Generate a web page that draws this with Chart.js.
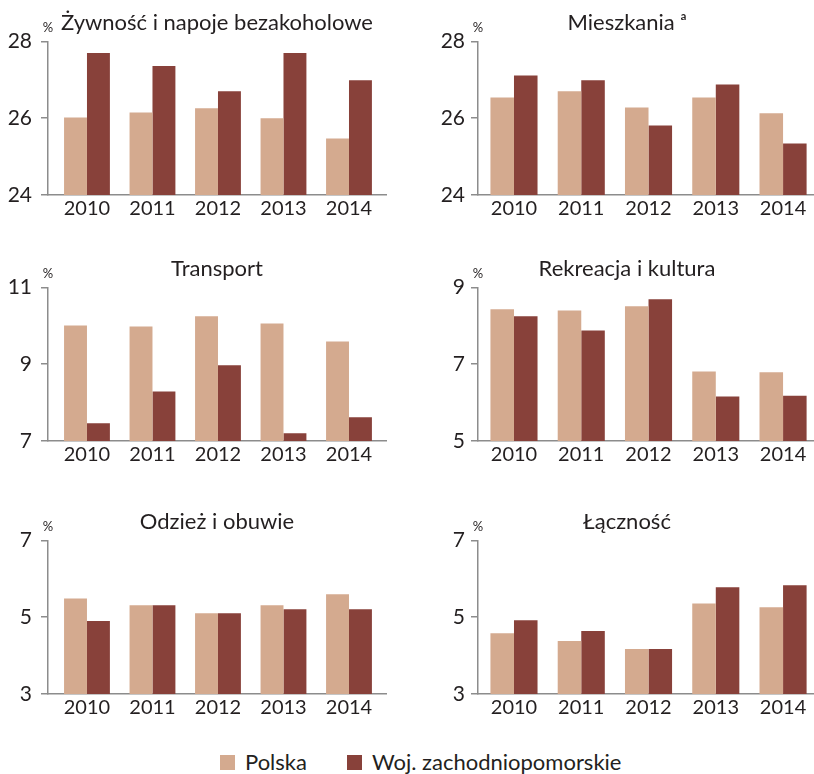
<!DOCTYPE html>
<html lang="pl">
<head>
<meta charset="utf-8">
<title>Struktura wydatków gospodarstw domowych</title>
<script src="https://cdn.jsdelivr.net/npm/chart.js@4.4.1/dist/chart.umd.min.js"></script>
<style>
    body { margin: 0; background: #fff; }
    #wrap { position: relative; width: 814px; height: 774px; overflow: hidden; font-family: Lato, sans-serif; color: #231f20; }
    #wrap canvas { position: absolute; }
    .legend { position: absolute; top: 749px; left: 220px; display: flex; font-size: 22px; line-height: 26px; }
    .legend .item { display: flex; align-items: center; margin-right: 40px; }
    .legend .swatch { display: inline-block; width: 15px; height: 15px; margin-right: 10px; }
</style>
</head>
<body>
<div id="wrap">
    <canvas id="c0"></canvas>
    <canvas id="c1"></canvas>
    <canvas id="c2"></canvas>
    <canvas id="c3"></canvas>
    <canvas id="c4"></canvas>
    <canvas id="c5"></canvas>
    <div class="legend" id="legend"></div>
</div>
<script>
    const years = ["2010", "2011", "2012", "2013", "2014"];
    const seriesNames = ["Polska", "Woj. zachodniopomorskie"];

    const foodPL = [26.02, 26.15, 26.26, 26.0, 25.47];
    const foodZP = [27.7, 27.36, 26.7, 27.7, 26.99];
    const housingPL = [26.54, 26.7, 26.28, 26.54, 26.13];
    const housingZP = [27.11, 26.99, 25.81, 26.88, 25.34];
    const transportPL = [10.01, 9.98, 10.25, 10.06, 9.59];
    const transportZP = [7.46, 8.29, 8.97, 7.2, 7.62];
    const recreationPL = [8.43, 8.4, 8.51, 6.81, 6.79];
    const recreationZP = [8.25, 7.88, 8.69, 6.16, 6.18];
    const clothingPL = [5.49, 5.31, 5.1, 5.31, 5.6];
    const clothingZP = [4.9, 5.31, 5.1, 5.21, 5.21];
    const commsPL = [4.58, 4.38, 4.17, 5.36, 5.26];
    const commsZP = [4.92, 4.64, 4.17, 5.78, 5.83];

    const panelTitles = ["Żywność i napoje bezakoholowe", "Mieszkania ᵃ", "Transport", "Rekreacja i kultura", "Odzież i obuwie", "Łączność"];
    const panelRanges = [[24, 28], [24, 28], [7, 11], [5, 9], [3, 7], [3, 7]];

    const colors = ["#d4aa8f", "#88413a"];
    const textColor = "#231f20";
    const axisColor = "#8c8c8c";

    Chart.defaults.font.family = "Lato, sans-serif";
    Chart.defaults.color = textColor;

    // column / row placement of the six panels
    const columns = [
        { left: 0, width: 420, padR: 34, axisW: 48, tickPad: 9, fullTitle: false, xMin: 2009.405, xMax: 2014.565 },
        { left: 440, width: 374, padR: 0, axisW: 38, tickPad: 6, fullTitle: true, xMin: 2009.465, xMax: 2014.46 }
    ];
    const rowTops = [0, 246, 499];
    const panelHeight = 227;

    const percentSign = {
        id: "percentSign",
        afterDraw(chart) {
            const { ctx, chartArea } = chart;
            ctx.save();
            ctx.font = "13px Lato, sans-serif";
            ctx.fillStyle = textColor;
            ctx.textAlign = "center";
            ctx.textBaseline = "middle";
            ctx.fillText("%", chartArea.left, chartArea.top - 14);
            ctx.restore();
        }
    };

    const panels = [
        [foodPL, foodZP], [housingPL, housingZP],
        [transportPL, transportZP], [recreationPL, recreationZP],
        [clothingPL, clothingZP], [commsPL, commsZP]
    ];

    panels.forEach((series, i) => {
        const col = columns[i % 2];
        const top = rowTops[Math.floor(i / 2)];
        const [yMin, yMax] = panelRanges[i];
        const canvas = document.getElementById("c" + i);
        canvas.style.left = col.left + "px";
        canvas.style.top = top + "px";
        canvas.style.width = col.width + "px";
        canvas.style.height = panelHeight + "px";

        new Chart(canvas, {
            type: "bar",
            data: {
                labels: years,
                datasets: series.map((data, k) => ({
                    label: seriesNames[k],
                    data,
                    backgroundColor: colors[k],
                    borderWidth: 0,
                    categoryPercentage: 0.7,
                    barPercentage: 1
                }))
            },
            options: {
                responsive: false,
                animation: false,
                layout: { padding: { left: 0, right: col.padR, top: 0, bottom: 4 } },
                plugins: {
                    legend: { display: false },
                    tooltip: { enabled: false },
                    title: {
                        display: true,
                        fullSize: col.fullTitle,
                        text: panelTitles[i],
                        color: textColor,
                        font: { size: 22, weight: "normal" },
                        padding: { top: 10, bottom: 5 }
                    }
                },
                scales: {
                    x: {
                        type: "linear",
                        offset: false,
                        min: col.xMin,
                        max: col.xMax,
                        grid: { display: false, drawTicks: false },
                        border: { display: true, color: axisColor, width: 1.5 },
                        ticks: {
                            stepSize: 1,
                            includeBounds: false,
                            padding: 2,
                            color: textColor,
                            font: { size: 20 },
                            callback: (v) => String(v)
                        }
                    },
                    y: {
                        min: yMin,
                        max: yMax,
                        beginAtZero: false,
                        afterFit: (scale) => { scale.width = col.axisW; },
                        grid: { drawOnChartArea: false, drawTicks: true, tickLength: 7, color: axisColor, lineWidth: 1.5 },
                        border: { display: true, color: axisColor, width: 1.5 },
                        ticks: { stepSize: 2, padding: col.tickPad, color: textColor, font: { size: 21 } }
                    }
                }
            },
            plugins: [percentSign]
        });
    });

    document.getElementById("legend").innerHTML = seriesNames.map((name, k) =>
        `<span class="item"><span class="swatch" style="background:${colors[k]}"></span>${name}</span>`).join("");
</script>
</body>
</html>
